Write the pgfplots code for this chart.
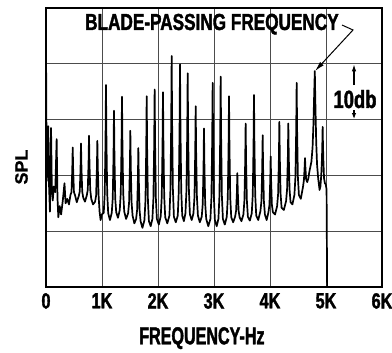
\documentclass[border=0pt]{standalone}
\usepackage{fontspec}
\setmainfont{Liberation Sans}[FakeBold=1.2]
\newfontfamily\cond[FakeStretch=0.74, FakeBold=1.6]{Liberation Sans}
\newfontfamily\condB[FakeStretch=0.66, FakeBold=1.6]{Liberation Sans}
\usepackage{pgfplots}
\pgfplotsset{compat=1.18}
\usetikzlibrary{arrows.meta}
\begin{document}
\begin{tikzpicture}
\begin{axis}[
  scale only axis, width=336bp, height=279bp,
  xmin=0, xmax=6, ymin=0, ymax=50,
  xtick={0,1,2,3,4,5,6}, xticklabels={0,1K,2K,3K,4K,5K,6K},
  ytick={0,10,20,30,40,50}, yticklabels={},
  grid=major, major grid style={black!70, line width=0.7bp},
  tick style={draw=none},
  axis line style={line width=1.2bp},
  xticklabel style={font=\cond\bfseries\fontsize{22}{22}\selectfont, inner sep=0pt, anchor=north, yshift=-6bp},
  xlabel={FREQUENCY-Hz},
  xlabel style={at={(axis description cs:0.464,0)}, anchor=north, yshift=-40bp, inner sep=0pt, font=\condB\bfseries\fontsize{24.5}{24.5}\selectfont},
  ylabel={SPL},
  ylabel style={at={(axis description cs:0,0.43)}, anchor=south, yshift=18bp, inner sep=0pt, font=\bfseries\fontsize{18}{18}\selectfont},
  clip=false,
]
\addplot[black, line width=1.7bp, line join=round] coordinates {
(0,16) (0.003,38.4) (0.012,19) (0.025,21) (0.04,28.8) (0.055,18) (0.07,13.5) (0.09,28.5) (0.105,17) (0.12,15.5) (0.14,18) (0.165,17) (0.19,26.5) (0.205,16) (0.22,12.5) (0.245,14.5) (0.27,13) (0.3,15.5) (0.33,18.6) (0.35,15) (0.38,15.8) (0.41,14.8)
(0.437,16.5) (0.455,17) (0.469,21) (0.477,25) (0.485,21) (0.499,17) (0.517,16.5) (0.55,15.2)
(0.585,16.3) (0.603,17.1) (0.617,21.4) (0.625,25.7) (0.633,21.4) (0.647,17.1) (0.665,16) (0.696,15.3)
(0.728,16.4) (0.746,17.4) (0.76,22.3) (0.768,27.1) (0.776,22.3) (0.79,17.4) (0.808,15.8) (0.84,14.8)
(0.877,15.3) (0.895,16.4) (0.909,21.3) (0.917,26.2) (0.925,21.3) (0.939,16.4) (0.957,13.5) (0.975,12) (0.995,13)
(1.031,13.3) (1.049,16.8) (1.063,26.5) (1.071,36.2) (1.079,26.5) (1.093,16.8) (1.111,13.2) (1.142,12)
(1.174,13.3) (1.192,15.9) (1.206,23.8) (1.214,31.6) (1.222,23.8) (1.236,15.9) (1.254,13.4) (1.285,12.4)
(1.317,13.8) (1.335,16.8) (1.349,25.5) (1.357,34.1) (1.365,25.5) (1.379,16.8) (1.397,13.5) (1.43,12.2)
(1.466,13.2) (1.484,15.2) (1.498,21.6) (1.506,28) (1.514,21.6) (1.528,15.2) (1.546,12.8) (1.578,11.4)
(1.609,12.2) (1.627,13.8) (1.641,19.3) (1.649,24.9) (1.657,19.3) (1.671,13.8) (1.689,11.8) (1.722,10.6)
(1.758,12) (1.776,15.5) (1.79,24.8) (1.798,34.2) (1.806,24.8) (1.82,15.5) (1.838,11.8) (1.869,10.9)
(1.90,12.2) (1.918,15.9) (1.932,25.6) (1.94,35.4) (1.948,25.6) (1.962,15.9) (1.98,12.2) (2.015,11.2)
(2.049,12.7) (2.067,16.2) (2.081,25.5) (2.089,34.9) (2.097,25.5) (2.111,16.2) (2.129,12.5) (2.166,11.4)
(2.204,12.8) (2.222,17.5) (2.236,29.4) (2.244,41.4) (2.252,29.4) (2.266,17.5) (2.284,12.6) (2.318,11.6)
(2.353,12.8) (2.371,17.2) (2.385,28.5) (2.393,39.9) (2.401,28.5) (2.415,17.2) (2.433,12.8) (2.462,11.8)
(2.49,13.2) (2.508,17.3) (2.522,27.8) (2.53,38.3) (2.538,27.8) (2.552,17.3) (2.57,13) (2.602,12)
(2.633,13.2) (2.651,16.1) (2.665,24.2) (2.673,32.4) (2.681,24.2) (2.695,16.1) (2.713,12.8) (2.747,11.6)
(2.781,12.6) (2.799,14.9) (2.813,21.6) (2.821,28.4) (2.829,21.6) (2.843,14.9) (2.861,12.2) (2.898,10.9)
(2.936,12.2) (2.954,16.1) (2.968,26.4) (2.976,36.6) (2.984,26.4) (2.998,16.1) (3.016,12) (3.048,10.9)
(3.079,12.2) (3.097,16.3) (3.111,27) (3.119,37.7) (3.127,27) (3.141,16.3) (3.159,12.2) (3.193,11.2)
(3.228,12.6) (3.246,16) (3.26,25.1) (3.268,34.2) (3.276,25.1) (3.29,16) (3.308,12.5) (3.342,11.6)
(3.377,12.6) (3.395,13.7) (3.409,17) (3.417,20.4) (3.425,17) (3.439,13.7) (3.457,12.5) (3.49,11.8)
(3.525,13) (3.543,15.5) (3.557,22.4) (3.565,29.3) (3.573,22.4) (3.587,15.5) (3.605,12.6) (3.64,11.9)
(3.674,13.2) (3.692,16.5) (3.706,25.4) (3.714,34.4) (3.722,25.4) (3.736,16.5) (3.754,12.8) (3.79,12)
(3.829,13.6) (3.847,15.4) (3.861,21.3) (3.869,27.2) (3.877,21.3) (3.891,15.4) (3.909,13) (3.94,12)
(3.972,13.4) (3.99,14.7) (4.004,19) (4.012,23.4) (4.02,19) (4.034,14.7) (4.052,13.4) (4.09,13)
(4.127,14.5) (4.145,16.7) (4.159,23.2) (4.167,29.6) (4.175,23.2) (4.189,16.7) (4.207,14.2) (4.247,13.8)
(4.287,15.4) (4.305,17.5) (4.319,23.4) (4.327,29.3) (4.335,23.4) (4.349,17.5) (4.367,15.2) (4.40,14.8)
(4.436,16.5) (4.454,19.7) (4.468,28.2) (4.476,36.6) (4.484,28.2) (4.498,19.7) (4.516,16.5) (4.55,15.8)
(4.59,18) (4.607,19.3) (4.618,21.5) (4.625,23.1) (4.632,21.5) (4.645,19.3) (4.665,18.8) (4.685,19.5) (4.70,20.5)
(4.72,21.5) (4.74,22.5) (4.76,25) (4.775,29) (4.79,35) (4.80,38.7) (4.81,33) (4.825,26) (4.84,22) (4.86,19.5) (4.885,17.4) (4.90,18)
(4.915,20) (4.928,23) (4.935,26) (4.94,28.7) (4.945,26) (4.952,23) (4.965,19.5) (4.98,18.6) (4.995,18.4) (5.01,17.5) (5.02,0)
};
\node[anchor=base west, inner sep=0pt, font=\cond\bfseries\fontsize{23.3}{23.3}\selectfont] at (axis cs:0.696,46.06) {BLADE-PASSING FREQUENCY};
\draw[line width=1bp, -{Latex[length=10bp,width=5bp]}] (axis cs:5.286,46.95) -- (axis cs:5.482,46.06) -- (axis cs:4.804,38.71);
\node[anchor=base, inner sep=0pt, font=\cond\bfseries\fontsize{25}{25}\selectfont] at (axis cs:5.518,32.08) {10db};
\draw[line width=1.1bp, -{Latex[length=7bp,width=4.5bp]}] (axis cs:5.5,36.2) -- (axis cs:5.5,39.9);
\draw[line width=1.1bp, -{Latex[length=6bp,width=4.5bp]}] (axis cs:5.5,31.7) -- (axis cs:5.5,30.1);
\end{axis}
\pgfresetboundingbox
\useasboundingbox ([xshift=-46bp,yshift=-65bp]current axis.south west) rectangle ([xshift=10bp,yshift=8bp]current axis.north east);
\end{tikzpicture}
\end{document}
